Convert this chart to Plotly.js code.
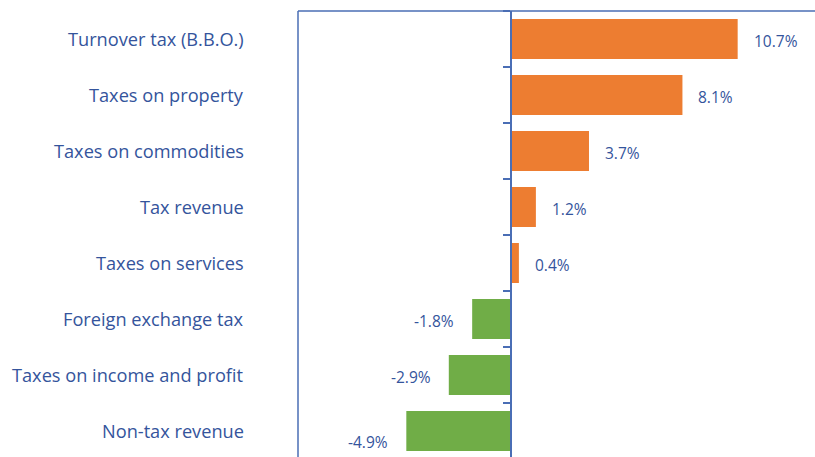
<!DOCTYPE html>
<html>
<head>
<meta charset="utf-8">
<script src="https://cdn.plot.ly/plotly-3.0.1.min.js"></script>
<style>
html,body{margin:0;padding:0;overflow:hidden;background:#fff;width:815px;height:457px;}
#chart{width:840px;height:470px;}
</style>
</head>
<body>
<div id="chart"></div>
<script>
const categories = ["Turnover tax (B.B.O.)", "Taxes on property", "Taxes on commodities", "Tax revenue", "Taxes on services", "Foreign exchange tax", "Taxes on income and profit", "Non-tax revenue"];
const values = [10.7, 8.1, 3.7, 1.2, 0.4, -1.8, -2.9, -4.9];
const valueLabels = ["10.7%", "8.1%", "3.7%", "1.2%", "0.4%", "-1.8%", "-2.9%", "-4.9%"];

const textColor = "#34549C";
const lineColor = "#4A6EB5";
const fontFam = "'Open Sans', Lato, sans-serif";

const colors = values.map(v => v >= 0 ? "#ED7D31" : "#70AD47");

const trace = {
  type: "bar",
  orientation: "h",
  x: values,
  y: categories,
  marker: {color: colors},
  hoverinfo: "skip"
};

const annotations = [];
categories.forEach((c, i) => {
  annotations.push({
    xref: "paper", yref: "y", x: 0, y: c, xanchor: "right", yanchor: "middle",
    xshift: -52, yshift: 0, showarrow: false, text: c,
    font: {family: fontFam, size: 18.2, color: textColor}
  });
  const v = values[i];
  const last = i === categories.length - 1;
  annotations.push({
    xref: "x", yref: "y", x: v, y: c,
    xanchor: v >= 0 ? "left" : "right", yanchor: "middle",
    xshift: v >= 0 ? 14 : -16, yshift: last ? -11 : -2, showarrow: false, text: valueLabels[i],
    font: {family: fontFam, size: 15.5, color: textColor}
  });
});

const layout = {
  width: 840, height: 470,
  margin: {l: 298, r: 11, t: 11, b: 11},
  paper_bgcolor: "#ffffff", plot_bgcolor: "#ffffff",
  showlegend: false,
  bargap: 0.286,
  xaxis: {range: [-10, 15], showgrid: false, zeroline: false, showticklabels: false, showline: false, ticks: "", fixedrange: true},
  yaxis: {
    type: "category", categoryorder: "array", categoryarray: categories,
    range: [7.5, -0.5],
    anchor: "free", position: 0.4,
    showline: true, linecolor: lineColor, linewidth: 1.3,
    ticks: "outside", tickson: "boundaries", ticklen: 7, tickcolor: lineColor, tickwidth: 1.3,
    showticklabels: false, showgrid: false, zeroline: false
  },
  shapes: [
    {type: "line", xref: "paper", yref: "paper", x0: 0, x1: 0, y0: 0, y1: 1, line: {color: lineColor, width: 1.5}},
    {type: "line", xref: "paper", yref: "paper", x0: 0, x1: 1, y0: 1, y1: 1, line: {color: lineColor, width: 1.5}}
  ],
  annotations: annotations
};

Plotly.newPlot("chart", [trace], layout, {displayModeBar: false, staticPlot: true});
</script>
</body>
</html>
